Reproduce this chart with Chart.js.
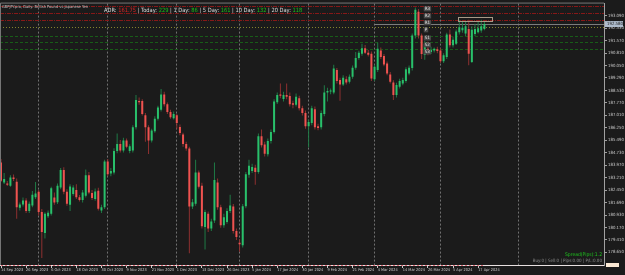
<!DOCTYPE html>
<html>
<head>
<meta charset="utf-8">
<script src="https://cdn.jsdelivr.net/npm/chart.js@4.4.1/dist/chart.umd.min.js"></script>
<style>
  html, body { margin: 0; padding: 0; background: #1b1b1b; }
</style>
</head>
<body>
<canvas id="myChart" width="625" height="275"></canvas>
<script>
// GBPJPY daily candles, bar 0 = 14 Sep 2023 ... bar 154 = 19 Apr 2024
const opens = [
  184.13, 182.92, 182.86, 182.72, 183.22, 182.96, 181.37, 181.57, 181.81, 181.17,
  181.51, 182.01, 182.35, 181.11, 179.83, 180.86, 181.00, 182.00, 181.71, 182.61,
  183.68, 182.35, 181.55, 182.21, 182.45, 182.01, 181.85, 182.11, 183.36, 182.27,
  181.91, 182.41, 181.21, 181.41, 184.19, 183.46, 183.52, 184.83, 185.27, 184.87,
  185.48, 184.83, 184.87, 186.28, 187.89, 187.89, 187.01, 186.28, 185.48, 186.04,
  186.80, 187.35, 188.29, 187.69, 187.21, 186.84, 187.01, 186.30, 185.84, 185.27,
  184.99, 181.45, 181.61, 183.52, 182.72, 180.20, 181.00, 180.10, 180.60, 182.92,
  181.41, 180.30, 180.50, 181.17, 181.45, 179.96, 179.23, 179.09, 181.47, 183.38,
  183.62, 183.82, 183.56, 185.74, 185.23, 184.63, 185.44, 186.00, 187.81, 188.29,
  188.01, 188.25, 188.19, 187.75, 187.65, 188.05, 187.45, 187.15, 186.34, 186.54,
  187.39, 186.34, 186.28, 187.09, 188.41, 188.46, 188.41, 189.77, 189.16, 188.90,
  189.22, 189.06, 189.36, 189.91, 190.51, 190.77, 191.11, 190.83, 190.77, 189.22,
  189.77, 190.97, 190.63, 190.17, 189.50, 189.02, 188.25, 188.76, 188.96, 189.10,
  189.56, 189.90, 191.88, 193.33, 191.88, 190.70, 191.07, 190.87, 190.97, 191.05,
  190.97, 190.31, 190.57, 191.94, 191.28, 191.38, 192.08, 192.20, 192.00, 192.28,
  190.27, 191.98, 192.08, 192.18, 192.28
];
const highs = [
  184.35, 183.50, 183.00, 183.35, 183.40, 183.15, 181.70, 182.00, 181.95, 181.75,
  182.40, 182.95, 182.45, 181.30, 181.10, 181.20, 182.65, 182.30, 182.85, 183.80,
  183.85, 182.50, 182.80, 182.75, 182.80, 182.15, 182.45, 183.70, 183.55, 182.45,
  182.55, 182.60, 181.55, 184.30, 184.35, 183.80, 185.00, 185.90, 185.50, 185.65,
  185.60, 185.25, 186.40, 188.25, 188.10, 188.00, 187.15, 186.40, 186.20, 186.95,
  187.60, 188.62, 188.45, 187.80, 187.35, 187.25, 187.10, 186.45, 185.95, 185.40,
  185.10, 181.90, 184.30, 183.65, 182.90, 181.25, 181.15, 180.70, 184.13, 183.15,
  181.55, 181.00, 181.35, 182.17, 181.60, 180.10, 179.45, 181.60, 183.55, 184.30,
  184.05, 184.00, 185.90, 186.14, 185.40, 185.60, 186.15, 188.00, 188.40, 188.96,
  188.45, 188.96, 188.40, 187.90, 188.35, 188.20, 187.60, 187.30, 186.75, 187.60,
  187.55, 186.50, 187.30, 188.85, 188.70, 188.65, 190.10, 189.90, 189.30, 189.45,
  189.40, 189.50, 190.05, 190.87, 190.95, 191.38, 191.30, 191.00, 190.90, 190.10,
  191.45, 191.15, 190.75, 190.30, 189.65, 189.15, 189.00, 189.25, 189.30, 189.95,
  190.05, 192.00, 193.59, 193.50, 192.00, 191.55, 191.52, 191.20, 191.15, 191.20,
  191.10, 190.80, 192.05, 192.25, 191.80, 192.25, 192.85, 192.70, 192.75, 192.85,
  192.45, 192.60, 192.75, 192.85, 192.70
];
const lows = [
  182.95, 182.82, 182.70, 182.65, 183.00, 180.70, 181.20, 181.45, 181.05, 181.05,
  181.40, 181.90, 180.90, 178.30, 179.50, 180.75, 180.90, 181.55, 181.60, 182.50,
  182.20, 181.50, 181.17, 182.10, 181.90, 181.75, 181.70, 182.00, 182.20, 181.85,
  181.80, 181.20, 181.05, 181.30, 183.30, 183.30, 183.40, 184.70, 184.75, 184.75,
  185.00, 184.70, 184.75, 186.15, 187.65, 187.00, 185.40, 184.65, 185.35, 185.95,
  186.70, 187.25, 187.55, 187.10, 186.80, 186.75, 186.20, 185.80, 185.10, 184.85,
  178.60, 181.30, 181.50, 182.55, 180.10, 178.83, 179.90, 179.95, 180.45, 181.25,
  180.15, 180.15, 180.40, 181.05, 179.80, 179.40, 178.69, 178.95, 181.35, 183.20,
  183.50, 182.78, 183.45, 185.05, 184.50, 184.50, 185.30, 185.90, 187.70, 188.05,
  187.85, 188.00, 187.55, 187.45, 187.55, 187.30, 187.00, 186.20, 185.07, 186.40,
  186.15, 186.10, 186.15, 186.95, 187.85, 188.30, 188.30, 188.95, 187.90, 188.80,
  188.90, 188.95, 189.25, 189.80, 190.40, 190.65, 190.75, 190.60, 189.10, 189.10,
  189.65, 190.45, 190.00, 189.45, 188.95, 187.95, 188.10, 188.65, 188.85, 189.00,
  189.45, 189.75, 191.70, 191.70, 190.45, 190.40, 190.67, 190.75, 190.85, 190.80,
  190.20, 190.20, 190.45, 191.15, 191.15, 191.30, 191.95, 192.05, 191.85, 190.07,
  190.20, 191.85, 192.00, 192.05, 192.20
];
const closes = [
  183.02, 183.12, 182.78, 183.22, 183.12, 181.41, 181.57, 181.81, 181.17, 181.61,
  182.17, 182.25, 181.11, 179.90, 181.00, 181.07, 182.57, 181.69, 182.72, 183.68,
  182.35, 181.61, 182.67, 182.61, 182.01, 181.85, 182.31, 183.36, 182.31, 181.97,
  182.37, 181.31, 181.41, 184.19, 183.42, 183.62, 184.83, 185.27, 184.87, 185.48,
  185.10, 185.13, 186.28, 187.95, 187.81, 187.09, 186.28, 185.48, 186.08, 186.80,
  187.49, 188.29, 187.69, 187.21, 186.89, 187.09, 186.54, 185.94, 185.27, 184.99,
  181.45, 181.71, 183.52, 182.65, 180.24, 181.11, 180.10, 180.54, 183.06, 181.41,
  180.30, 180.80, 181.17, 181.51, 179.96, 179.59, 179.15, 181.47, 183.42, 183.93,
  183.86, 183.56, 185.74, 185.19, 184.67, 185.44, 186.00, 187.85, 188.25, 188.21,
  188.25, 188.15, 187.69, 187.65, 188.15, 187.45, 187.15, 186.34, 186.60, 187.45,
  186.28, 186.24, 187.15, 188.41, 188.50, 188.50, 189.87, 189.10, 188.90, 189.30,
  189.02, 189.36, 189.91, 190.51, 190.83, 191.11, 190.83, 190.71, 189.26, 189.97,
  191.07, 190.57, 190.11, 189.56, 189.06, 188.25, 188.86, 189.10, 189.16, 189.83,
  189.91, 191.88, 193.45, 191.88, 190.75, 191.38, 190.87, 191.00, 191.07, 190.93,
  190.31, 190.67, 191.94, 191.28, 191.62, 192.12, 192.38, 192.35, 192.44, 190.77,
  192.24, 192.28, 192.32, 192.44, 192.58
];

// time axis labels (every 8th bar) and month separators
const dateLabels = ['14 Sep 2023', '26 Sep 2023', '6 Oct 2023', '18 Oct 2023', '30 Oct 2023',
  '9 Nov 2023', '21 Nov 2023', '1 Dec 2023', '13 Dec 2023', '26 Dec 2023', '5 Jan 2024',
  '17 Jan 2024', '30 Jan 2024', '9 Feb 2024', '21 Feb 2024', '4 Mar 2024', '14 Mar 2024',
  '26 Mar 2024', '5 Apr 2024', '17 Apr 2024'];
const dateLabelBars = [0, 8, 16, 24, 32, 40, 48, 56, 64, 72, 80, 88, 96, 104, 112, 120, 128, 136, 144, 152];
const monthStartBars = [12, 34, 56, 76, 98, 119, 140, 165];

// price axis labels
const priceTicks = [193.09, 192.33, 191.57, 190.81, 190.05, 189.29, 188.53, 187.77, 187.01, 186.25,
  185.49, 184.73, 183.97, 183.21, 182.45, 181.69, 180.93, 180.17, 179.41, 178.65];

// daily pivot levels
const pivotNames = ['R3', 'R2', 'R1', 'P', 'S1', 'S2', 'S3'];
const pivotLevels = [193.66, 193.23, 192.81, 192.38, 191.88, 191.46, 191.03];
const pivotLabelBar = 135;

// today's range box
const boxBars = [145.5, 156.5];
const boxPrices = [192.79, 192.99];
const bidLineStartBar = 119;

// ADR indicator text
const adrNames = ['ADR: ', ' | Today: ', ' | 1 Day: ', ' | 5 Day: ', ' | 10 Day: ', ' | 20 Day: '];
const adrValues = ['161.75', '229', '86', '161', '132', '118'];

document.addEventListener("DOMContentLoaded", function(){

    const fontFamily = "'DejaVu Sans Condensed', 'DejaVu Sans', sans-serif";
    const upColor = '#29c06b';
    const downColor = '#ef5350';
    const upWick = '#1f7a46';
    const downWick = '#8e3030';
    const bars = opens.map((o, i) => i);
    const isUp = i => closes[i] >= opens[i];

    const overlay = {
        id: 'overlay',
        beforeDraw(chart){
            const c = chart.ctx;
            c.save();
            c.fillStyle = '#1b1b1b';
            c.fillRect(0, 0, chart.width, chart.height);
            c.restore();
        },
        beforeDatasetsDraw(chart){
            const c = chart.ctx;
            const a = chart.chartArea;
            const x = chart.scales.x, y = chart.scales.y;
            c.save();
            c.lineWidth = 1;
            // pivot lines
            pivotLevels.forEach((lv, k) => {
                const py = Math.round(y.getPixelForValue(lv)) + 0.5;
                const name = pivotNames[k];
                if (name[0] == 'R') { c.strokeStyle = '#861818'; c.setLineDash([4, 1, 1, 1]); }
                else if (name == 'P') { c.strokeStyle = '#84842c'; c.setLineDash([1, 2]); }
                else { c.strokeStyle = '#185c18'; c.setLineDash([3, 2]); }
                c.beginPath(); c.moveTo(a.left, py); c.lineTo(a.right, py); c.stroke();
            });
            // bid line
            c.setLineDash([]);
            c.strokeStyle = '#7c7c7c';
            const by = Math.round(y.getPixelForValue(closes[closes.length - 1])) + 0.5;
            c.beginPath(); c.moveTo(x.getPixelForValue(bidLineStartBar), by); c.lineTo(a.right, by); c.stroke();
            c.restore();
        },
        afterDraw(chart){
            const c = chart.ctx;
            const a = chart.chartArea;
            const x = chart.scales.x, y = chart.scales.y;
            c.save();
            // frame top / left
            c.strokeStyle = '#767676';
            c.lineWidth = 1;
            c.beginPath(); c.moveTo(a.left + 0.5, a.bottom); c.lineTo(a.left + 0.5, a.top - 0.5); c.lineTo(a.right, a.top - 0.5); c.stroke();
            // pink dashes over the time axis line
            c.strokeStyle = '#e0707c';
            c.setLineDash([2, 2]);
            c.beginPath(); c.moveTo(x.getPixelForValue(0), a.bottom + 0.5); c.lineTo(x.getPixelForValue(bars.length - 1), a.bottom + 0.5); c.stroke();
            c.setLineDash([]);

            // range box
            c.strokeStyle = '#a89a88';
            const bx0 = Math.round(x.getPixelForValue(boxBars[0])) + 0.5;
            const bx1 = Math.round(x.getPixelForValue(boxBars[1])) + 0.5;
            const by0 = Math.round(y.getPixelForValue(boxPrices[1])) + 0.5;
            const by1 = Math.round(y.getPixelForValue(boxPrices[0])) + 0.5;
            c.strokeRect(bx0, by0, bx1 - bx0, by1 - by0);

            // pivot labels
            c.font = '4.5px ' + fontFamily;
            c.textBaseline = 'top';
            c.textAlign = 'left';
            const lx = x.getPixelForValue(pivotLabelBar);
            pivotLevels.forEach((lv, k) => {
                const py = y.getPixelForValue(lv);
                const w = c.measureText(pivotNames[k]).width;
                c.fillStyle = '#4a4a4a';
                c.fillRect(lx - 1, py, w + 2, 5);
                c.fillStyle = '#e0e0e0';
                c.fillText(pivotNames[k], lx, py + 0.3);
            });

            // current price tag on the price axis
            const last = closes[closes.length - 1];
            const ty = y.getPixelForValue(last);
            c.fillStyle = '#aebccc';
            c.fillRect(a.right + 1, ty - 3, 18, 6);
            c.fillStyle = '#1e1e1e';
            c.font = '4.3px ' + fontFamily;
            c.textBaseline = 'middle';
            c.fillText(last.toFixed(3), a.right + 3, ty + 0.3);

            // cream marker at the axis corner
            c.fillStyle = '#fbe9d4';
            c.fillRect(a.right + 2, a.bottom - 2, 13, 4);

            // header texts
            c.textBaseline = 'middle';
            c.font = '4px ' + fontFamily;
            c.fillStyle = '#c4c4c4';
            c.fillText('GBPJPY.pro, Daily: British Pound vs Japanese Yen', a.left + 2, a.top + 3);

            c.font = '5.7px ' + fontFamily;
            let tx = 104;
            adrNames.forEach((name, k) => {
                c.fillStyle = '#d8d8d8';
                c.fillText(name, tx, 10.5);
                tx += c.measureText(name).width;
                c.fillStyle = k == 0 ? '#e02424' : '#16c416';
                c.fillText(adrValues[k], tx, 10.5);
                tx += c.measureText(adrValues[k]).width;
            });

            // bottom right status
            c.textAlign = 'right';
            c.font = '5px ' + fontFamily;
            c.fillStyle = '#1ec41e';
            c.fillText('Spread(Pips):1.2', a.right - 2, a.bottom - 10.5);
            c.font = '4.5px ' + fontFamily;
            c.fillStyle = '#8c8c8c';
            c.fillText('Buy:0 | Sell:0 | Pips:0.00 | P/L:0.00', a.right - 2, a.bottom - 4.5);
            c.restore();
        }
    };

    const ctx = document.getElementById('myChart');
    const myChart = new Chart(ctx, {
        type: 'bar',
        data: {
            datasets: [{
                label: 'body',
                data: bars.map(i => ({x: i, y: [opens[i], closes[i]]})),
                backgroundColor: bars.map(i => isUp(i) ? upColor : downColor),
                barThickness: 2,
                minBarLength: 1,
                inflateAmount: 0,
                grouped: false,
                order: 1
            }, {
                label: 'wick',
                data: bars.map(i => ({x: i, y: [lows[i], highs[i]]})),
                backgroundColor: bars.map(i => isUp(i) ? upWick : downWick),
                barThickness: 1,
                inflateAmount: 0,
                grouped: false,
                order: 2
            }]
        },
        options: {
            responsive: false,
            animation: false,
            devicePixelRatio: 1,
            layout: { padding: { top: 1, left: 0, right: 0, bottom: 0 } },
            plugins: { legend: { display: false }, tooltip: { enabled: false } },
            scales: {
                x: {
                    type: 'linear',
                    min: -0.32,
                    max: 192.1,
                    offset: false,
                    position: 'bottom',
                    afterBuildTicks: axis => { axis.ticks = dateLabelBars.map(v => ({value: v})); },
                    afterFit: axis => { axis.height = 10; },
                    ticks: {
                        callback: (v, i) => dateLabels[i],
                        autoSkip: false,
                        maxRotation: 0,
                        align: 'start',
                        padding: 0,
                        color: '#c8c8c8',
                        font: { family: fontFamily, size: 3.9 }
                    },
                    grid: { offset: false, drawOnChartArea: false, drawTicks: true, tickLength: 3, tickColor: '#c8c8c8' },
                    border: { display: true, color: '#e8e0e0' }
                },
                months: {
                    type: 'linear',
                    min: -0.32,
                    max: 192.1,
                    offset: false,
                    position: 'bottom',
                    afterBuildTicks: axis => { axis.ticks = monthStartBars.map(v => ({value: v})); },
                    afterFit: axis => { axis.height = 0; },
                    ticks: { display: false },
                    grid: { offset: false, drawOnChartArea: true, drawTicks: false, color: '#707070', lineWidth: 1 },
                    border: { display: false, dash: [2, 2] }
                },
                y: {
                    type: 'linear',
                    position: 'right',
                    min: 177.88,
                    max: 193.83,
                    beginAtZero: false,
                    afterBuildTicks: axis => { axis.ticks = priceTicks.map(v => ({value: v})); },
                    afterFit: axis => { axis.width = 21; },
                    ticks: {
                        callback: v => v.toFixed(3),
                        padding: 1,
                        color: '#c8c8c8',
                        font: { family: fontFamily, size: 4.3 }
                    },
                    grid: { drawOnChartArea: false, drawTicks: true, tickLength: 3, tickColor: '#a0a0a0' },
                    border: { display: true, color: '#a0a0a0' }
                }
            }
        },
        plugins: [overlay]
    });
});
</script>
</body>
</html>
